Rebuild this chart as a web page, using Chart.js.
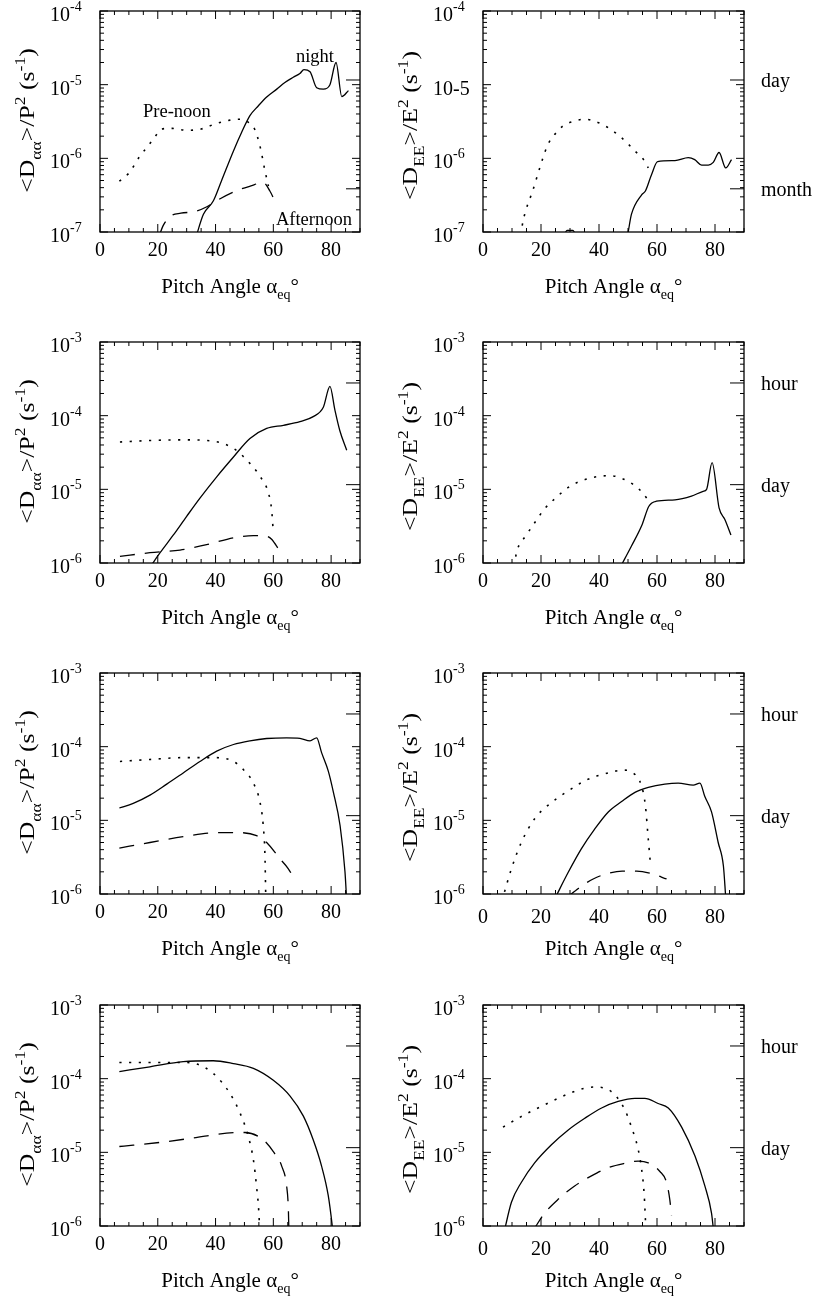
<!DOCTYPE html>
<html>
<head>
<meta charset="utf-8">
<script src="https://cdn.jsdelivr.net/npm/chart.js@4.4.1/dist/chart.umd.min.js"></script>
<style>
  html, body { margin: 0; padding: 0; background: #fff; }
  #page { position: relative; width: 816px; height: 1298px; overflow: hidden; background: #fff; }
  #page canvas { position: absolute; }
</style>
</head>
<body>
<div id="page"></div>
<script>
// ---- data: [pitch angle (deg), diffusion rate (s^-1)] ----
const p1Solid = [[33,8e-8],[35.8,1.74e-7],[39.2,2.63e-7],[42,4.9e-7],[46.2,1.26e-6],[49,2.24e-6],[51.9,3.8e-6],[54.7,5.1e-6],[57.7,6.8e-6],[61.2,8.7e-6],[64,1.07e-5],[66.9,1.26e-5],[69.2,1.42e-5],[70.6,1.6e-5],[72.7,1.5e-5],[75,9.1e-6],[77.3,8.7e-6],[79.6,1.0e-5],[81.7,2.0e-5],[83.7,6.9e-6],[86,8.3e-6]];
const p1Dotted = [[6.7,4.9e-7],[10,6.3e-7],[13.8,1.07e-6],[16.7,1.48e-6],[19.6,2.1e-6],[21.3,2.5e-6],[25,2.55e-6],[30,2.4e-6],[35,2.5e-6],[40,2.95e-6],[45,3.3e-6],[48,3.4e-6],[51,3.15e-6],[53.5,2.5e-6],[55.5,1.4e-6],[57,7.1e-7],[58.3,4.2e-7]];
const p1Dashed = [[20.5,9e-8],[22,1.25e-7],[24.5,1.65e-7],[28,1.8e-7],[33,1.9e-7],[37,2.2e-7],[41,2.75e-7],[47,3.6e-7],[52,4.2e-7],[56.5,4.7e-7],[58.8,3.6e-7],[60.6,2.6e-7]];

const p2Solid = [[27.5,8e-8],[29,1.05e-7],[31,1.05e-7],[32.5,8e-8],[40,4e-8],[49.5,8e-8],[51.2,1.75e-7],[54.7,3.2e-7],[56,3.6e-7],[58.1,6e-7],[60.2,9e-7],[66.2,9.3e-7],[70.8,1.02e-6],[73,9.6e-7],[75.4,8.1e-7],[77.7,8.1e-7],[79.4,8.8e-7],[81.4,1.2e-6],[83.7,7.4e-7],[85.7,9.6e-7]];
const p2Dotted = [[13,9e-8],[13.8,1.4e-7],[17.3,3.8e-7],[20.7,1.02e-6],[22.4,1.55e-6],[24.7,2.1e-6],[27.6,2.75e-6],[31.6,3.2e-6],[35.1,3.4e-6],[38.5,3.2e-6],[43.2,2.6e-6],[47.8,1.9e-6],[52.4,1.26e-6],[55.8,9.1e-7],[57,7.4e-7]];

const p3Solid = [[17.5,9e-7],[20.8,1.38e-6],[25.4,2.4e-6],[30,4.3e-6],[34.6,7.6e-6],[40.4,1.48e-5],[46.2,2.75e-5],[51.9,4.9e-5],[57.7,6.7e-5],[63.5,7.4e-5],[69.2,8.3e-5],[73.8,9.7e-5],[77.3,1.3e-4],[79.6,2.5e-4],[81.3,1.2e-4],[83,6.3e-5],[85.4,3.4e-5]];
const p3Dotted = [[6.9,4.4e-5],[17.3,4.6e-5],[28.8,4.7e-5],[39.2,4.5e-5],[46.2,3.6e-5],[50.8,2.5e-5],[55.4,1.5e-5],[58.3,8.9e-6],[59.4,5.3e-6],[60,2.6e-6]];
const p3Dashed = [[6.9,1.23e-6],[17.3,1.38e-6],[27.7,1.5e-6],[36.9,1.77e-6],[46.2,2.2e-6],[53.1,2.35e-6],[57.7,2.3e-6],[59.4,2.1e-6],[62,1.5e-6]];

const p4Solid = [[47.5,9e-7],[51.2,1.7e-6],[54.7,3.2e-6],[57.2,5.9e-6],[59.8,6.9e-6],[66.2,7.2e-6],[71.9,8.1e-6],[75.9,9.4e-6],[77.1,1e-5],[79,2.3e-5],[81.4,5.6e-6],[83.4,3.9e-6],[85.5,2.4e-6]];
const p4Dotted = [[10.8,9e-7],[11.5,1.35e-6],[15,2.4e-6],[18,3.6e-6],[21,5.3e-6],[25,7.6e-6],[30,1.1e-5],[35,1.35e-5],[40,1.5e-5],[44,1.53e-5],[48,1.4e-5],[52,1.15e-5],[55,9e-6],[57.5,6.6e-6]];

const p5Solid = [[6.7,1.47e-5],[11.5,1.7e-5],[17.3,2.2e-5],[23.1,3.1e-5],[28.8,4.4e-5],[34.6,6.3e-5],[40.4,8.7e-5],[46.2,1.07e-4],[51.9,1.2e-4],[57.7,1.29e-4],[64.6,1.32e-4],[69.2,1.3e-4],[72.7,1.2e-4],[75,1.32e-4],[76.7,8.3e-5],[79,4.7e-5],[80.8,2.4e-5],[83.1,8.5e-6],[84.8,2e-6],[85.4,8e-7]];
const p5Dotted = [[6.9,6.3e-5],[17.3,6.7e-5],[28.8,7.1e-5],[40.4,7.1e-5],[46.2,6.3e-5],[49.6,4.9e-5],[53.1,3.2e-5],[55.4,1.75e-5],[56.5,8.5e-6],[57.1,3.3e-6],[57.4,8e-7]];
const p5Dashed = [[6.7,4.2e-6],[17.3,5e-6],[28.8,6e-6],[40.4,6.8e-6],[48.5,6.8e-6],[54.2,6.2e-6],[57.7,5e-6],[62.3,3e-6],[65.2,2.2e-6],[66.9,1.7e-6]];

const p6Solid = [[25,9e-7],[29.3,1.94e-6],[33.9,4.1e-6],[38.5,7.6e-6],[43.2,1.3e-5],[47.8,1.8e-5],[52.4,2.4e-5],[57,2.8e-5],[62.7,3.1e-5],[67.3,3.2e-5],[72.5,3e-5],[74.8,3.2e-5],[76.5,2.1e-5],[78.8,1.3e-5],[81.1,5e-6],[82.9,2.4e-6],[83.7,9e-7]];
const p6Dotted = [[6.5,8e-7],[9.8,2.2e-6],[13.2,5e-6],[17.8,1.05e-5],[22.4,1.6e-5],[29.3,2.5e-5],[36.2,3.6e-5],[43.1,4.4e-5],[48.3,4.8e-5],[51.8,4.4e-5],[54.7,2.9e-5],[56,1.58e-5],[57,5.5e-6],[57.8,2.4e-6]];
const p6Dashed = [[29,9e-7],[33,1.2e-6],[38,1.6e-6],[43,1.9e-6],[48,2.05e-6],[53,2.05e-6],[58,1.9e-6],[63.3,1.6e-6]];

const p7Solid = [[6.7,1.25e-4],[17.3,1.45e-4],[28.8,1.7e-4],[39.2,1.75e-4],[46.2,1.6e-4],[53.1,1.38e-4],[60,9.5e-5],[65.8,5.8e-5],[70.4,3.1e-5],[73.8,1.48e-5],[76.7,6.5e-6],[79,2.6e-6],[80.4,1e-6],[80.8,7e-7]];
const p7Dotted = [[6.7,1.66e-4],[17.3,1.66e-4],[28.8,1.66e-4],[33.5,1.58e-4],[39.2,1.18e-4],[45,6.3e-5],[48.5,3.4e-5],[51.3,1.66e-5],[53.1,7.9e-6],[54.2,3.4e-6],[55,1.5e-6],[55.3,8e-7]];
const p7Dashed = [[6.7,1.2e-5],[11.5,1.25e-5],[21.9,1.38e-5],[32.3,1.57e-5],[43.8,1.82e-5],[50.2,1.86e-5],[56.5,1.48e-5],[60,1.02e-5],[62.9,6.5e-6],[64.6,3.5e-6],[65.2,1.7e-6],[65.4,8e-7]];

const p8Solid = [[7.2,8e-7],[9.8,2.1e-6],[13.2,3.9e-6],[17.8,7.2e-6],[23.6,1.27e-5],[29.3,2e-5],[35.1,2.9e-5],[40.9,4e-5],[46.6,4.9e-5],[52.4,5.4e-5],[55.8,5.4e-5],[60.4,4.6e-5],[63.9,4e-5],[68.5,2.2e-5],[73.1,8.9e-6],[76.5,3.5e-6],[78.8,1.5e-6],[79.6,8e-7]];
const p8Dotted = [[6.9,2.2e-5],[12.1,2.9e-5],[17.8,3.8e-5],[23.6,4.9e-5],[29.3,6.2e-5],[35,7.4e-5],[38.6,7.7e-5],[43.2,7.1e-5],[46,5.7e-5],[48.9,3.8e-5],[51.2,2.2e-5],[53.5,1.1e-5],[54.7,5.9e-6],[55.6,2.6e-6],[56,1.23e-6],[56.2,8e-7]];
const p8Dashed = [[17.5,9e-7],[21.3,1.5e-6],[25.9,2.3e-6],[31.6,3.5e-6],[37.4,4.8e-6],[43.2,6.2e-6],[48.9,7.1e-6],[53.5,7.6e-6],[57,7.2e-6],[61,5.5e-6],[63.3,3.9e-6],[64.4,2.3e-6],[65,1.4e-6]];

// ---- ticks and labels ----
const xTickValues = [0, 20, 40, 60, 80];
const yDecadesTop = [1e-7, 1e-6, 1e-5, 1e-4];
const yLabelsTopLeft = ['10^-7', '10^-6', '10^-5', '10^-4'];
const yLabelsTopRight = ['10^-7', '10^-6', '10-5', '10^-4'];
const yDecadesLow = [1e-6, 1e-5, 1e-4, 1e-3];
const yLabelsLow = ['10^-6', '10^-5', '10^-4', '10^-3'];
const markValuesTop = [1 / 86400, 1 / (30 * 86400)];
const markLabelsTop = ['day', 'month'];
const markValuesLow = [1 / 3600, 1 / 86400];
const markLabelsLow = ['hour', 'day'];

const titleAA = [['<D', 'n'], ['αα', 'sub'], ['>/P', 'n'], ['2', 'sup'], [' (s', 'n'], ['-1', 'sup'], [')', 'n']];
const titleEE = [['<D', 'n'], ['EE', 'sub'], ['>/E', 'n'], ['2', 'sup'], [' (s', 'n'], ['-1', 'sup'], [')', 'n']];
const titleX = [['Pitch Angle α', 'n'], ['eq', 'sub'], ['°', 'n']];

const notesP1 = [
  { text: 'night', x: 74.4, y: 2.05e-5, align: 'center' },
  { text: 'Pre-noon', x: 14.9, y: 3.69e-6, align: 'left' },
  { text: 'Afternoon', x: 60.9, y: 1.23e-7, align: 'left' }
];

// ---- layout ----
const SERIF = '"Liberation Serif", "Times New Roman", Times, serif';
const font = (size) => size + 'px ' + SERIF;
const colLeft = [0, 390];
const colWidth = [390, 426];
const axisWidth = [100, 93];
const padRight = [30, 72];
const rowTop = [11, 342, 673, 1005];
const plotHeight = 221;
const xAxisHeight = 72;
const yTitleStretch = 1.17;

function richWidth(ctx, segs, size, small) {
  let w = 0;
  segs.forEach(s => {
    ctx.font = font(s[1] === 'n' ? size : small);
    w += ctx.measureText(s[0]).width;
  });
  return w;
}

function drawRich(ctx, segs, x, y, size, small) {
  segs.forEach(s => {
    ctx.font = font(s[1] === 'n' ? size : small);
    let dy = 0;
    if (s[1] === 'sub') dy = size * 0.3;
    if (s[1] === 'sup') dy = -size * 0.42;
    ctx.fillText(s[0], x, y + dy);
    x += ctx.measureText(s[0]).width;
  });
}

const panelDeco = {
  id: 'panelDeco',
  afterDatasetsDraw(chart, args, o) {
    const ctx = chart.ctx;
    const a = chart.chartArea;
    const xs = chart.scales.x;
    const ys = chart.scales.y;
    ctx.save();
    ctx.fillStyle = '#000';
    ctx.strokeStyle = '#000';

    // inward ticks on all four sides
    ctx.lineWidth = 1;
    ctx.beginPath();
    for (let v = 0; v <= 90; v += 5) {
      const px = xs.getPixelForValue(v);
      const len = v % 20 === 0 ? 8 : 4;
      ctx.moveTo(px, a.bottom); ctx.lineTo(px, a.bottom - len);
      ctx.moveTo(px, a.top); ctx.lineTo(px, a.top + len);
    }
    const e0 = Math.round(Math.log10(ys.min));
    const e1 = Math.round(Math.log10(ys.max));
    for (let e = e0; e <= e1; e++) {
      for (let m = 1; m <= 9; m++) {
        if (e === e1 && m > 1) break;
        const py = ys.getPixelForValue(m * Math.pow(10, e));
        const len = m === 1 ? 8 : 4;
        ctx.moveTo(a.left, py); ctx.lineTo(a.left + len, py);
        ctx.moveTo(a.right, py); ctx.lineTo(a.right - len, py);
      }
    }
    o.marks.forEach(v => {
      const py = ys.getPixelForValue(v);
      ctx.moveTo(a.right - 14, py); ctx.lineTo(a.right, py);
    });
    ctx.stroke();
    ctx.lineWidth = 1.3;
    ctx.strokeRect(a.left, a.top, a.right - a.left, a.bottom - a.top);

    // time-scale labels beside the right column
    if (o.markLabels) {
      ctx.font = font(20);
      ctx.textAlign = 'left';
      ctx.textBaseline = 'alphabetic';
      o.markLabels.forEach((t, i) => {
        ctx.fillText(t, a.right + 17, ys.getPixelForValue(o.marks[i]) + 7);
      });
    }

    // y tick labels 10^n
    ctx.textAlign = 'left';
    ctx.textBaseline = 'alphabetic';
    o.yTicks.forEach((v, i) => {
      const py = ys.getPixelForValue(v);
      const lx = a.left - 50;
      const parts = o.yLabels[i].split('^');
      ctx.font = font(20);
      ctx.fillText(parts[0], lx, py + 10);
      if (parts[1]) {
        const w = ctx.measureText(parts[0]).width;
        ctx.font = font(14);
        ctx.fillText(parts[1], lx + w, py);
      }
    });

    // x title
    ctx.textAlign = 'left';
    const wx = richWidth(ctx, titleX, 21, 14);
    drawRich(ctx, titleX, (a.left + a.right) / 2 - wx / 2, a.bottom + 61, 21, 14);

    // y title (rotated)
    ctx.save();
    ctx.translate(a.left - 66, (a.top + a.bottom) / 2 + o.titleShift);
    ctx.rotate(-Math.PI / 2);
    ctx.scale(yTitleStretch, 1);
    const wy = richWidth(ctx, o.title, 22, 15);
    drawRich(ctx, o.title, -wy / 2, 0, 22, 15);
    ctx.restore();

    // curve annotations
    (o.notes || []).forEach(n => {
      ctx.font = font(18.5);
      ctx.textAlign = n.align;
      ctx.fillText(n.text, xs.getPixelForValue(n.x), ys.getPixelForValue(n.y));
    });
    ctx.restore();
  }
};

const lineStyles = {
  solid: { borderWidth: 1.3, borderDash: [] },
  dotted: { borderWidth: 1.6, borderDash: [2.2, 7.5] },
  dashed: { borderWidth: 1.3, borderDash: [15, 10] }
};

function makeSet(points, style) {
  return Object.assign({
    data: points.map(p => ({ x: p[0], y: p[1] })),
    borderColor: '#000',
    pointRadius: 0,
    fill: false,
    cubicInterpolationMode: 'monotone'
  }, lineStyles[style]);
}

const panelSpecs = [
  { row: 0, col: 0, yMin: 1e-7, yMax: 1e-4, series: [[p1Solid, 'solid'], [p1Dotted, 'dotted'], [p1Dashed, 'dashed']], title: titleAA, yTicks: yDecadesTop, yLabels: yLabelsTopLeft, marks: markValuesTop, markLabels: null, notes: notesP1 },
  { row: 0, col: 1, yMin: 1e-7, yMax: 1e-4, series: [[p2Solid, 'solid'], [p2Dotted, 'dotted']], title: titleEE, yTicks: yDecadesTop, yLabels: yLabelsTopRight, marks: markValuesTop, markLabels: markLabelsTop },
  { row: 1, col: 0, yMin: 1e-6, yMax: 1e-3, series: [[p3Solid, 'solid'], [p3Dotted, 'dotted'], [p3Dashed, 'dashed']], title: titleAA, yTicks: yDecadesLow, yLabels: yLabelsLow, marks: markValuesLow, markLabels: null },
  { row: 1, col: 1, yMin: 1e-6, yMax: 1e-3, series: [[p4Solid, 'solid'], [p4Dotted, 'dotted']], title: titleEE, yTicks: yDecadesLow, yLabels: yLabelsLow, marks: markValuesLow, markLabels: markLabelsLow },
  { row: 2, col: 0, yMin: 1e-6, yMax: 1e-3, series: [[p5Solid, 'solid'], [p5Dotted, 'dotted'], [p5Dashed, 'dashed']], title: titleAA, yTicks: yDecadesLow, yLabels: yLabelsLow, marks: markValuesLow, markLabels: null },
  { row: 2, col: 1, yMin: 1e-6, yMax: 1e-3, series: [[p6Solid, 'solid'], [p6Dotted, 'dotted'], [p6Dashed, 'dashed']], title: titleEE, yTicks: yDecadesLow, yLabels: yLabelsLow, marks: markValuesLow, markLabels: markLabelsLow },
  { row: 3, col: 0, yMin: 1e-6, yMax: 1e-3, series: [[p7Solid, 'solid'], [p7Dotted, 'dotted'], [p7Dashed, 'dashed']], title: titleAA, yTicks: yDecadesLow, yLabels: yLabelsLow, marks: markValuesLow, markLabels: null },
  { row: 3, col: 1, yMin: 1e-6, yMax: 1e-3, series: [[p8Solid, 'solid'], [p8Dotted, 'dotted'], [p8Dashed, 'dashed']], title: titleEE, yTicks: yDecadesLow, yLabels: yLabelsLow, marks: markValuesLow, markLabels: markLabelsLow }
];

const page = document.getElementById('page');
const charts = [];

panelSpecs.forEach(spec => {
  const cv = document.createElement('canvas');
  const w = colWidth[spec.col];
  const h = 11 + plotHeight + xAxisHeight;
  cv.width = w;
  cv.height = h;
  cv.style.width = w + 'px';
  cv.style.height = h + 'px';
  cv.style.left = colLeft[spec.col] + 'px';
  cv.style.top = (rowTop[spec.row] - 11) + 'px';
  page.appendChild(cv);

  const labelPad = (spec.col === 1 && spec.row >= 2) ? 12 : 7;
  const aw = axisWidth[spec.col];

  charts.push(new Chart(cv.getContext('2d'), {
    type: 'line',
    data: { datasets: spec.series.map(s => makeSet(s[0], s[1])) },
    options: {
      responsive: false,
      animation: false,
      devicePixelRatio: 1,
      layout: { padding: { top: 11, right: padRight[spec.col], left: 0, bottom: 0 } },
      plugins: {
        legend: { display: false },
        tooltip: { enabled: false },
        panelDeco: {
          title: spec.title,
          titleShift: spec.col === 1 ? 4 : -1,
          yTicks: spec.yTicks,
          yLabels: spec.yLabels,
          marks: spec.marks,
          markLabels: spec.markLabels,
          notes: spec.notes
        }
      },
      scales: {
        x: {
          type: 'linear',
          min: 0,
          max: 90,
          afterBuildTicks: (s) => { s.ticks = xTickValues.map(v => ({ value: v })); },
          afterFit: (s) => { s.height = xAxisHeight; },
          ticks: { color: '#000', font: { family: SERIF, size: 20 }, padding: labelPad, maxRotation: 0, autoSkip: false },
          grid: { display: false, drawTicks: false },
          border: { display: false }
        },
        y: {
          type: 'logarithmic',
          min: spec.yMin,
          max: spec.yMax,
          afterFit: (s) => { s.width = aw; },
          ticks: { display: false },
          grid: { display: false, drawTicks: false },
          border: { display: false }
        }
      }
    },
    plugins: [panelDeco]
  }));
});
</script>
</body>
</html>
